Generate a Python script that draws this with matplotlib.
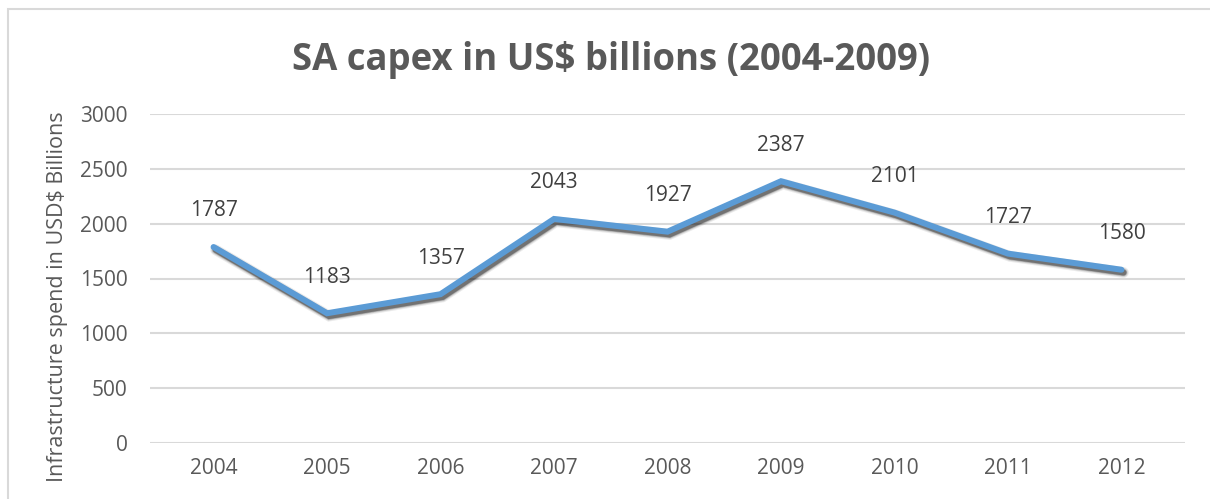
import numpy as np
import matplotlib.pyplot as plt
import matplotlib.patheffects as pe
from matplotlib.patches import Rectangle

years = ["2004", "2005", "2006", "2007", "2008", "2009", "2010", "2011", "2012"]
capex = [1787, 1183, 1357, 2043, 1927, 2387, 2101, 1727, 1580]
yticks = [0, 500, 1000, 1500, 2000, 2500, 3000]

plt.rcParams['font.family'] = ['Open Sans', 'DejaVu Sans']
grey = "#595959"

W, H = 1210, 499
fig = plt.figure(figsize=(W / 100, H / 100), dpi=100)
fig.patch.set_facecolor("white")

# chart frame, runs off the right and bottom edges
fig.patches.append(Rectangle((8 / W, -0.1), 1.2, 1 - 9 / H + 0.1,
                             transform=fig.transFigure, fill=False,
                             edgecolor="#D9D9D9", lw=1.5))

ax = fig.add_axes([150 / W, (H - 443) / H, (1185 - 150) / W, (443 - 114) / H])
x = np.arange(len(years))

# soft drop shadow: a few stacked translucent strokes
lw = 4.3
shadow = [pe.SimpleLineShadow(offset=(1.5, -2.0), shadow_color="black", alpha=a, rho=1.0,
                              linewidth=lw + w)
          for w, a in [(3.5, 0.08), (2.0, 0.12), (0.8, 0.2), (0.0, 0.3)]]
ax.plot(x, capex, color="#5B9BD5", lw=lw, solid_joinstyle="miter",
        solid_capstyle="round", path_effects=shadow + [pe.Normal()])

for xi, v in zip(x, capex):
    ax.annotate(str(v), (xi, v), xytext=(0, 26), textcoords="offset points",
                ha="center", va="center", fontsize=15, color="#404040")

ax.set_xlim(-0.56, 8.56)
ax.set_ylim(0, 3000)
ax.set_yticks(yticks)
ax.set_xticks(x)
ax.set_xticklabels(years)
ax.grid(axis="y", color="#D9D9D9", lw=1.5)
ax.set_axisbelow(True)
for s in ax.spines.values():
    s.set_visible(False)
ax.tick_params(length=0, labelsize=15, labelcolor=grey)
ax.tick_params(axis="x", pad=11)
ax.tick_params(axis="y", pad=16)

ax.set_ylabel("Infrastructure spend in USD$ Billions", fontsize=15.5, color=grey)
ax.yaxis.set_label_coords(-0.079, 0.445)

fig.text(611 / W, 1 - 60 / H, "SA capex in US$ billions (2004-2009)",
         ha="center", va="center", fontsize=26.3, fontweight="bold", color=grey)

fig.savefig("out.png", dpi=100)
